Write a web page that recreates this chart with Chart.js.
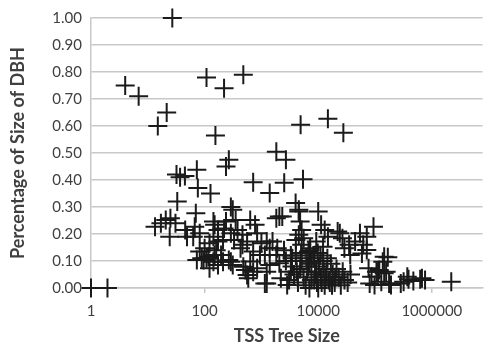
<!DOCTYPE html>
<html>
<head>
<meta charset="utf-8">
<script src="https://cdn.jsdelivr.net/npm/chart.js@4.4.0/dist/chart.umd.min.js"></script>
<style>
  html, body { margin: 0; padding: 0; background: #fff; }
  #wrap { width: 494px; height: 347px; }
</style>
</head>
<body>
<div id="wrap"><canvas id="scatterChart" width="494" height="347"></canvas></div>
<script>
// TSS tree size (x) and percentage of size of DBH (y)
const treeSize = [
  1, 1.95, 4.0, 6.9, 15, 21.5, 27, 108, 220, 480, 155, 267, 238,
  4900, 14800, 27700, 1830, 2700, 32, 37, 45, 73, 76, 127, 33, 70,
  290, 313, 716, 1400, 2520, 5400, 4000, 4550, 10000, 2070, 4800, 94000,
  // left cluster
  13.4, 20.7, 25, 30.7, 24.3, 45.5, 63, 150, 172, 143, 220, 290, 380, 464,
  774, 840, 1830, 82, 100, 117, 89, 150, 195, 172, 122, 267, 429, 480,
  560, 635, 840, 942, 1240, 1150, 1400, 1570, 1000, 560, 716,
  17, 67, 82, 49, 73, 96, 143, 160, 211, 330, 464, 290, 108, 122, 172,
  211, 313, 522, 587, 716, 143, 238, 352, 635,
  // right cluster
  2330, 4550, 13000, 11250, 24000, 26700, 35000, 44600, 58800, 145000,
  1900, 1830, 2070, 5100, 5540, 7200, 9240, 12170, 77000, 87000, 129000,
  157000, 98000, 2200, 3300, 2840,
  1240, 1150, 1400, 1240, 4550, 4040, 5120, 3450, 6740, 7590, 9240, 14830,
  22000, 28900, 36600, 71600, 62000, 137000, 106000,
  54300, 71600, 168000, 119000, 80500, 284000, 370000, 670000, 760000,
  2200000, 177000, 473000, 319000, 389000, 624000, 191000, 113000, 145000,
  // dense band near zero
  2700, 3070, 3450, 3740, 4040, 4400, 4800, 5120, 5540, 6000, 6400, 7000,
  7600, 8200, 8800, 9500, 10300, 11200, 12200, 13000, 14000, 15300, 16700,
  18000, 19500, 21000, 23000, 25000, 27000, 29000, 33000, 37000,
  5000, 6200, 7200, 8500, 9800, 11000, 12500, 14500, 16000, 17500, 20000,
  10000, 7000, 8500, 11500, 13500, 4200, 3300, 2500, 6600
];
const pctDBH = [
  0, 0, 0.75, 0.71, 0.60, 0.65, 1.00, 0.78, 0.74, 0.79, 0.565, 0.475, 0.45,
  0.605, 0.627, 0.575, 0.505, 0.475, 0.42, 0.41, 0.415, 0.438, 0.37, 0.35, 0.32, 0.277,
  0.30, 0.29, 0.392, 0.352, 0.39, 0.403, 0.315, 0.283, 0.283, 0.265, 0.246, 0.227,
  // left cluster
  0.227, 0.252, 0.258, 0.24, 0.19, 0.215, 0.19, 0.234, 0.215, 0.19, 0.22, 0.203, 0.215, 0.197,
  0.234, 0.203, 0.258, 0.135, 0.147, 0.116, 0.11, 0.122, 0.122, 0.172, 0.166, 0.104, 0.147, 0.079,
  0.048, 0.098, 0.073, 0.122, 0.06, 0.017, 0.147, 0.172, 0.166, 0.172, 0.135,
  0.24, 0.227, 0.203, 0.19, 0.104, 0.104, 0.097, 0.14, 0.178, 0.178, 0.16, 0.097, 0.11, 0.073, 0.085,
  0.097, 0.085, 0.067, 0.036, 0.06, 0.246, 0.246, 0.252, 0.252,
  // right cluster
  0.265, 0.29, 0.215, 0.234, 0.203, 0.184, 0.16, 0.172, 0.128, 0.116,
  0.147, 0.122, 0.092, 0.215, 0.184, 0.147, 0.172, 0.153, 0.073, 0.042, 0.023,
  0.06, 0.011, 0.036, 0.06, 0.011,
  0.172, 0.122, 0.085, 0.017, 0.197, 0.178, 0.16, 0.11, 0.135, 0.097, 0.06, 0.19,
  0.209, 0.147, 0.122, 0.19, 0.16, 0.097, 0.06,
  0.203, 0.141, 0.114, 0.067, 0.017, 0.017, 0.042, 0.036, 0.03,
  0.023, 0.017, 0.026, 0.023, 0.032, 0.032, 0.011, 0.06, 0.055,
  // dense band near zero
  0.10, 0.03, 0.08, 0.05, 0.12, 0.02, 0.07, 0.10, 0.04, 0.01, 0.06, 0.09,
  0.03, 0.12, 0.05, 0.02, 0.08, 0.04, 0.10, 0.01, 0.06, 0.03, 0.09,
  0.05, 0.02, 0.07, 0.04, 0.01, 0.06, 0.03, 0.02, 0.05,
  0.13, 0.11, 0.14, 0.11, 0.13, 0.12, 0.07, 0.11, 0.02, 0.01, 0.04,
  0.00, 0.00, 0.03, 0.02, 0.04, 0.06, 0.12, 0.14, 0.08
];
const xTicks = [1, 100, 10000, 1000000];
const yTicks = [0, 0.1, 0.2, 0.3, 0.4, 0.5, 0.6, 0.7, 0.8, 0.9, 1.0];

const points = treeSize.map((x, i) => ({ x: x, y: pctDBH[i] }));

const ctx = document.getElementById("scatterChart").getContext("2d");
new Chart(ctx, {
  type: "scatter",
  data: {
    datasets: [
      {
        label: "Percentage of Size of DBH",
        data: points,
        clip: false,
        pointStyle: "cross",
        pointRadius: 9.5,
        pointHoverRadius: 9.5,
        borderColor: "#1a1a1a",
        borderWidth: 2,
      },
    ],
  },
  options: {
    responsive: false,
    animation: false,
    layout: { padding: { top: 18, right: 0, left: 0, bottom: 0 } },
    plugins: {
      legend: { display: false },
      tooltip: { enabled: false },
    },
    scales: {
      x: {
        type: "logarithmic",
        min: 1,
        max: 7800000,
        afterBuildTicks: (scale) => {
          scale.ticks = xTicks.map((v) => ({ value: v }));
        },
        afterFit: (scale) => {
          scale.height = 59;
        },
        grid: {
          drawOnChartArea: false,
          drawTicks: true,
          tickLength: 5,
          color: "#c8c8c8",
          lineWidth: 1.5,
        },
        border: { color: "#c8c8c8", width: 1.5 },
        ticks: {
          color: "#404040",
          font: { family: "Lato", size: 15 },
          padding: 9,
          maxRotation: 0,
          callback: (v) => String(v),
        },
        title: {
          display: true,
          text: "TSS Tree Size",
          color: "#404040",
          font: { family: "Lato", size: 18, weight: "bold" },
          padding: { top: 0, bottom: 0 },
        },
      },
      y: {
        min: 0,
        max: 1,
        afterBuildTicks: (scale) => {
          scale.ticks = yTicks.map((v) => ({ value: v }));
        },
        afterFit: (scale) => {
          scale.width = 91;
        },
        grid: {
          drawTicks: false,
          color: "#c8c8c8",
          lineWidth: 1.5,
        },
        border: { color: "#c8c8c8", width: 1.5 },
        ticks: {
          color: "#404040",
          font: { family: "Lato", size: 15 },
          padding: 9,
          callback: (v) => v.toFixed(2),
        },
        title: {
          display: true,
          text: "Percentage of Size of DBH",
          color: "#404040",
          font: { family: "Lato", size: 18, weight: "bold" },
          padding: { top: 7, bottom: 0 },
        },
      },
    },
  },
});
</script>
</body>
</html>
